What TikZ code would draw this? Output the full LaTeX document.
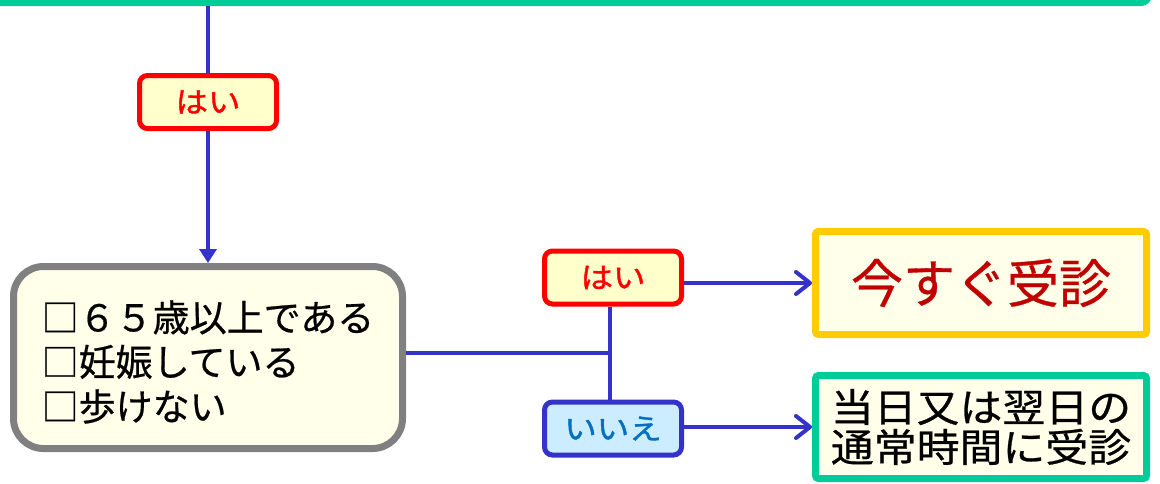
\documentclass[tikz,border=0pt]{standalone}
\usepackage{fontspec}
\usepackage{graphicx}
\setmainfont{Noto Sans CJK JP}
\newfontfamily\labelfont[FakeBold=1.2]{Noto Sans CJK JP}
\newfontfamily\midfont[FakeBold=0.6]{Noto Sans CJK JP}
\newcommand{\widelbl}[1]{\scalebox{1.12}[1]{#1}}
\usetikzlibrary{arrows.meta}
\definecolor{lineblue}{HTML}{3333CC}
\definecolor{hred}{HTML}{FF0000}
\definecolor{hfill}{HTML}{FFFFCC}
\definecolor{boxgray}{HTML}{808080}
\definecolor{cream}{HTML}{FFFFEA}
\definecolor{gold}{HTML}{FFCC00}
\definecolor{mint}{HTML}{00CC99}
\definecolor{iiefill}{HTML}{CCECFF}
\definecolor{iietext}{HTML}{0070C0}
\definecolor{darkred}{HTML}{C00000}
\tikzset{
  conn/.style={draw=lineblue, line width=4pt},
  yeslabel/.style={draw=hred, fill=hfill, line width=5pt, rounded corners=8pt,
    minimum width=137pt, minimum height=53pt, inner sep=0pt, text=hred,
    font=\labelfont\fontsize{29}{32}\selectfont},
  nolabel/.style={draw=lineblue, fill=iiefill, line width=5pt, rounded corners=8pt,
    minimum width=137pt, minimum height=53pt, inner sep=0pt, text=iietext,
    font=\labelfont\fontsize{29}{32}\selectfont},
  resultbox/.style={fill=cream, line width=7pt, rounded corners=3pt,
    minimum width=331pt, minimum height=103pt, inner sep=0pt},
}
\begin{document}
\begin{tikzpicture}[x=1pt,y=-1pt]
\useasboundingbox (0,0) rectangle (1160,483);
% top box (cut off)
\draw[draw=mint, fill=cream, line width=6pt, rounded corners=8pt] (-30,-120) rectangle (1149,3);
\coordinate (topstart) at (208,6);
% main box
\node[draw=boxgray, fill=cream, line width=7pt, rounded corners=30pt,
  minimum width=389pt, minimum height=182pt, inner sep=0pt] (main) at (208,357.5) {};
\node[align=left, font=\midfont\fontsize{37}{44.5}\selectfont, inner sep=0pt, anchor=center] (maintext) at (208,362)
  {□６５歳以上である\\□妊娠している\\□歩けない};
% labels
\node[yeslabel] (hai1) at (208,102) {\widelbl{はい}};
\node[yeslabel] (hai2) at (613,277.5) {\widelbl{はい}};
\node[nolabel] (iie) at (613,428.5) {\widelbl{いいえ}};
% result boxes
\node[resultbox, draw=gold, text=darkred, font=\midfont\fontsize{52}{60}\selectfont] (now) at (981,283) {今すぐ受診};
\node[resultbox, draw=mint, align=center, font=\midfont\fontsize{39}{40}\selectfont] (later) at (981,427)
  {\scalebox{1.1}[1]{当日又は翌日の}\\\scalebox{1.1}[1]{通常時間に受診}};
% connectors
\draw[conn] (topstart) -- (hai1.north);
\draw[conn, -{Triangle[width=17pt,length=14pt]}] (hai1.south) -- (main.north);
\coordinate (j) at (610,353);
\draw[conn] (main.east |- j) -- (j);
\draw[conn] (hai2.south -| j) -- (iie.north -| j);
\draw[conn, -{Straight Barb[length=14pt,width=22pt,round]}] (hai2.east |- now.west) -- (now.west);
\draw[conn, -{Straight Barb[length=14pt,width=22pt,round]}] (iie.east |- later.west) -- (later.west);
\end{tikzpicture}
\end{document}
